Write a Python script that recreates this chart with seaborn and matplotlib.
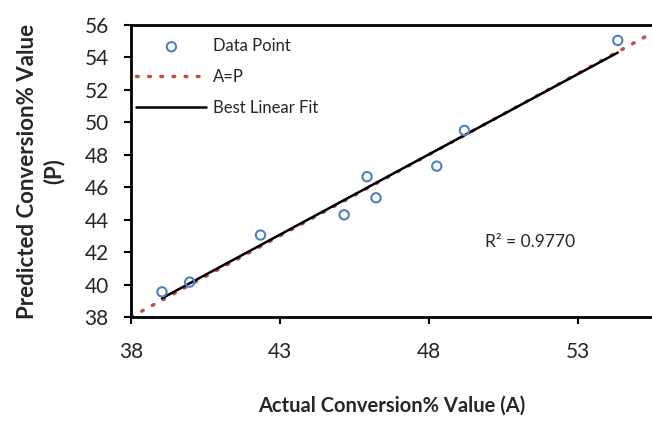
import numpy as np
import pandas as pd
import matplotlib
matplotlib.use('Agg')
import matplotlib.pyplot as plt
import seaborn as sns

# data
actual = [39.04, 39.97, 42.35, 45.16, 45.93, 46.23, 48.27, 49.20, 54.35]
predicted = [39.55, 40.15, 43.05, 44.30, 46.65, 45.35, 47.30, 49.50, 55.05]
r2_text = 'R² = 0.9770'
xticks = [38, 43, 48, 53]
yticks = [38, 40, 42, 44, 46, 48, 50, 52, 54, 56]

sns.set_style('white')
plt.rcParams['font.family'] = ['Lato', 'DejaVu Sans']

df = pd.DataFrame({'A': actual, 'P': predicted})

# best linear fit over the data range
slope, intercept = np.polyfit(df['A'], df['P'], 1)
fit = pd.DataFrame({'A': [min(actual), max(actual)]})
fit['P'] = slope * fit['A'] + intercept

# A = P reference line
ident = pd.DataFrame({'A': [38, 55.5], 'P': [38, 55.5]})

fig = plt.figure(figsize=(6.52, 4.21), dpi=100)
ax = fig.add_axes([131 / 652, 1 - 317 / 421, 1 - 131 / 652, 292 / 421])

red = '#C0504D'
blue = '#4F81BD'

sns.scatterplot(data=df, x='A', y='P', ax=ax, marker='o', s=45,
                facecolors='none', edgecolor=blue, linewidth=1.5,
                label='Data Point', zorder=4)
ax.plot(ident['A'], ident['P'], color=red, lw=2.5, linestyle=(0, (0.5, 3.0)),
        dash_capstyle='round', label='A=P', zorder=2)
sns.lineplot(data=fit, x='A', y='P', ax=ax, color='black', lw=1.8,
             label='Best Linear Fit', zorder=3)

ax.set_xlim(38, 55.5)
ax.set_ylim(38, 56)
ax.set_xticks(xticks)
ax.set_yticks(yticks)
ax.tick_params(axis='both', labelsize=15, direction='out', length=5, width=1.5,
               color='black', left=True, bottom=True)
ax.tick_params(axis='x', pad=13)
ax.tick_params(axis='y', pad=11)

for side in ['left', 'bottom', 'top']:
    ax.spines[side].set_color('black')
    ax.spines[side].set_linewidth(2)
ax.spines['right'].set_visible(False)

ax.set_xlabel('Actual Conversion% Value (A)', fontsize=14.5, fontweight='bold',
              labelpad=24)
ax.set_ylabel('Predicted Conversion% Value\n(P)', fontsize=16,
              fontweight='bold', labelpad=14, linespacing=1.3)

ax.text(0.68, 0.257, r2_text, transform=ax.transAxes, fontsize=12.5,
        ha='left', va='center')

ax.legend(loc='upper left', frameon=False, fontsize=12, handlelength=4.2,
          handletextpad=0.4, labelspacing=0.9, bbox_to_anchor=(-0.012, 0.995),
          borderaxespad=0.3)

fig.savefig('out.png', dpi=100)
